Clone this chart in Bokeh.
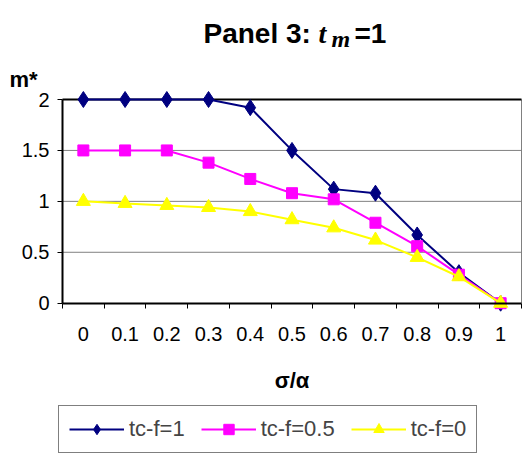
from bokeh.plotting import figure
from bokeh.models import (Range1d, FixedTicker, NumeralTickFormatter, Label, Legend, LegendItem)
from bokeh.embed import file_html
from bokeh.resources import INLINE

categories = ["0", "0.1", "0.2", "0.3", "0.4", "0.5", "0.6", "0.7", "0.8", "0.9", "1"]
tcf_1 = [2.0, 2.0, 2.0, 2.0, 1.92, 1.5, 1.12, 1.08, 0.67, 0.30, 0.0]
tcf_05 = [1.5, 1.5, 1.5, 1.38, 1.22, 1.08, 1.02, 0.79, 0.56, 0.28, 0.0]
tcf_0 = [1.0, 0.98, 0.96, 0.94, 0.90, 0.82, 0.74, 0.62, 0.45, 0.26, 0.0]
series_labels = ["tc-f=1", "tc-f=0.5", "tc-f=0"]
y_ticks = [0, 0.5, 1, 1.5, 2]
grid_ticks = [0.5, 1, 1.5]

FONT = "Liberation Sans"
W, H = 522, 454
# plot-area placement on the canvas (pixels)
PL, PR, PT, PB = 62, 521, 99, 302.7
n = len(categories)
xs = list(range(n))
x0, x1 = -0.5, n - 0.5
y0, y1 = 0.0, 2.0
sx = (PR - PL) / (x1 - x0)
sy = (PB - PT) / (y1 - y0)

p = figure(width=W, height=H, output_backend="svg", toolbar_location=None,
           x_range=Range1d(x0 - PL / sx, x1 + (W - PR) / sx),
           y_range=Range1d(y0 - (H - PB) / sy, y1 + PT / sy),
           min_border_left=0, min_border_right=0, min_border_top=0, min_border_bottom=0)
p.background_fill_color = "white"
p.border_fill_color = "white"
p.outline_line_color = None
p.xgrid.visible = False
p.ygrid.visible = False

# axes drawn at the plot-area edges
xa = p.xaxis[0]
xa.fixed_location = y0
xa.bounds = (x0, x1)
xa.ticker = FixedTicker(ticks=xs, minor_ticks=[i - 0.5 for i in range(n + 1)])
xa.major_label_overrides = {i: c for i, c in enumerate(categories)}
xa.major_tick_line_color = None
xa.major_tick_out = 0
xa.major_tick_in = 0
xa.minor_tick_line_color = "black"
xa.minor_tick_out = 5
xa.minor_tick_in = 0
xa.axis_line_color = "black"
xa.axis_line_width = 2
xa.major_label_standoff = 19
xa.major_label_text_font = FONT
xa.major_label_text_font_size = "20px"
xa.major_label_text_color = "black"

ya = p.yaxis[0]
ya.fixed_location = x0
ya.bounds = (y0, y1)
ya.ticker = FixedTicker(ticks=y_ticks)
ya.formatter = NumeralTickFormatter(format="0.[0]")
ya.major_tick_out = 5
ya.major_tick_in = 0
ya.minor_tick_line_color = None
ya.major_tick_line_color = "black"
ya.axis_line_color = "black"
ya.axis_line_width = 2
ya.major_label_standoff = 8
ya.major_label_text_font = FONT
ya.major_label_text_font_size = "20px"
ya.major_label_text_color = "black"

# gridlines, right border, top line of the plot area
p.segment(x0=[x0] * len(grid_ticks), y0=grid_ticks, x1=[x1] * len(grid_ticks), y1=grid_ticks,
          line_color="#808080", line_width=1)
p.segment(x0=[x1], y0=[y0], x1=[x1], y1=[y1], line_color="#808080", line_width=1)
p.segment(x0=[x0], y0=[y1], x1=[x1], y1=[y1], line_color="black", line_width=2)

r1l = p.line(xs, tcf_1, line_color="#000080", line_width=2)
r1m = p.scatter(xs, tcf_1, marker="diamond", size=16, fill_color="#000080", line_color="#000080")
r2l = p.line(xs, tcf_05, line_color="#FF00FF", line_width=2)
r2m = p.scatter(xs, tcf_05, marker="square", size=11, fill_color="#FF00FF", line_color="#FF00FF")
r3l = p.line(xs, tcf_0, line_color="#FFFF00", line_width=2)
r3m = p.scatter(xs, tcf_0, marker="triangle", size=14, fill_color="#FFFF00", line_color="#FFFF00")

legend = Legend(items=[LegendItem(label=series_labels[0], renderers=[r1l, r1m]),
                       LegendItem(label=series_labels[1], renderers=[r2l, r2m]),
                       LegendItem(label=series_labels[2], renderers=[r3l, r3m])],
                orientation="horizontal", location=(58, 1),
                label_text_font=FONT, label_text_font_size="22px",
                glyph_width=55, glyph_height=26, label_standoff=5, spacing=16,
                padding=10, margin=0, border_line_color="black", border_line_width=1,
                background_fill_color="white", background_fill_alpha=1)
p.add_layout(legend, "center")

def lab(text, x, y, size, style="bold", font=FONT, align="left", baseline="alphabetic"):
    # x, y given in canvas pixels from the top-left corner
    p.add_layout(Label(x=x, y=H - y, x_units="screen", y_units="screen", text=text,
                       text_font=font, text_font_size=size, text_font_style=style,
                       text_align=align, text_baseline=baseline, text_color="black"))

lab("Panel 3:", 203, 33, "28px")
lab("t", 318, 33, "28px", style="bold italic", font="Liberation Serif")
lab("m", 331, 38, "24px", style="bold italic", font="Liberation Serif")
lab("=1", 354, 33, "28px")
lab("m*", 9, 79, "22px")
lab("σ/α", (PL + PR) / 2, 380, "22px", align="center", baseline="middle")

open("out.html", "w").write(file_html(p, INLINE))
